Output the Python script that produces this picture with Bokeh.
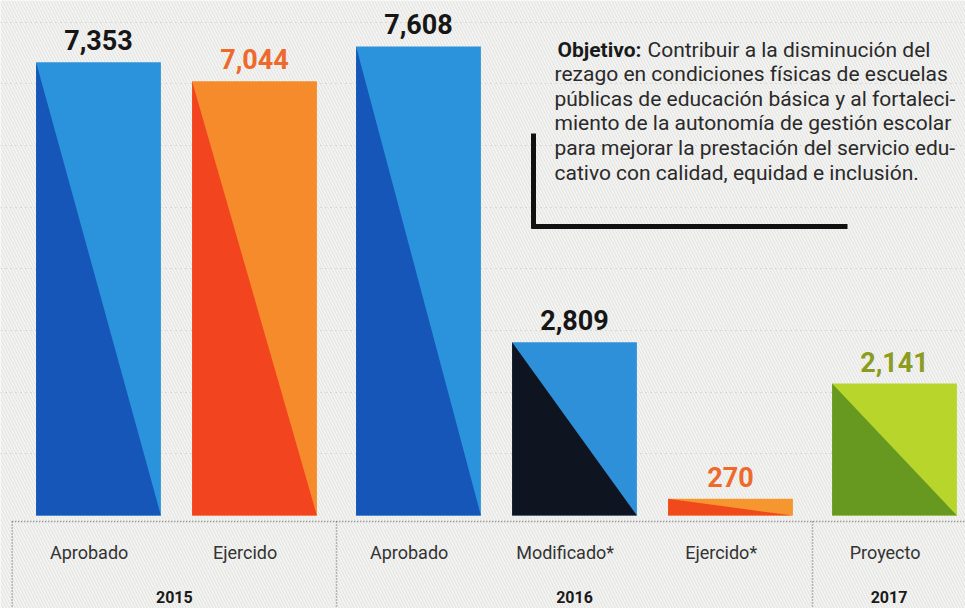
from bokeh.plotting import figure
from bokeh.models import Range1d, FixedTicker, ColumnDataSource
from bokeh.core.properties import value
from bokeh.embed import file_html
from bokeh.resources import INLINE

# ---- data ----
categories = ["Aprobado", "Ejercido", "Aprobado", "Modificado*", "Ejercido*", "Proyecto"]
years = ["2015", "2015", "2016", "2016", "2016", "2017"]
amounts = [7353, 7044, 7608, 2809, 270, 2141]
value_labels = ["7,353", "7,044", "7,608", "2,809", "270", "2,141"]
light_colors = ["#2b93dc", "#f68b2c", "#2b93dc", "#2d90d8", "#f5962e", "#b8d52c"]
dark_colors = ["#1656b8", "#f2441e", "#1656b8", "#0e1420", "#f04a1c", "#67981f"]
label_colors = ["#161616", "#ee6a2c", "#161616", "#161616", "#ee6a2c", "#8c9c20"]
grid_levels = [1000, 2000, 3000, 4000, 5000, 6000, 7000, 8000]
objective_head = "Objetivo:"
objective_lines = [
    "Contribuir a la disminución del",
    "rezago en condiciones físicas de escuelas",
    "públicas de educación básica y al fortaleci-",
    "miento de la autonomía de gestión escolar",
    "para mejorar la prestación del servicio edu-",
    "cativo con calidad, equidad e inclusión.",
]

# ---- layout ----
W, H = 965, 608
GAP = 0.0513
BAR_W = 0.80
X0 = -0.6282
X1 = X0 + W / 156.0
Y0, Y1 = -1508, 8353
FONT = "Roboto"

unique_years = []
for yv in years:
    if yv not in unique_years:
        unique_years.append(yv)
group_idx = [unique_years.index(yv) for yv in years]
xs = [i + g * GAP for i, g in enumerate(group_idx)]


def fx(px):  # pixel from left -> data x
    return X0 + px / W * (X1 - X0)


def fy(py):  # pixel from top -> data y
    return Y1 - py / H * (Y1 - Y0)


BG = "#f3f3f1"
p = figure(width=W, height=H, x_range=Range1d(X0, X1), y_range=Range1d(Y0, Y1),
           output_backend="svg", toolbar_location=None, min_border=0,
           background_fill_color=BG, border_fill_color=BG, outline_line_color=None)
p.xaxis.visible = False
p.yaxis.visible = False
p.xgrid.visible = False
p.ygrid.ticker = FixedTicker(ticks=grid_levels)
p.ygrid.grid_line_color = "#8a8a8a"
p.ygrid.grid_line_alpha = 0.45
p.ygrid.grid_line_dash = "1 4"
p.ygrid.grid_line_width = 1

# paper texture
p.quad(left=[X0], right=[X1], bottom=[Y0], top=[Y1], fill_alpha=0, line_alpha=0,
       hatch_pattern="\\", hatch_color="#d2d2d2", hatch_alpha=0.5,
       hatch_scale=6, hatch_weight=1, level="underlay")

# bars
src = ColumnDataSource(dict(x=xs, top=amounts, light=light_colors))
p.vbar(x="x", top="top", bottom=0, width=BAR_W, fill_color="light", line_color=None, source=src)
tri_xs = [[x - BAR_W / 2, x - BAR_W / 2, x + BAR_W / 2] for x in xs]
tri_ys = [[v, 0, 0] for v in amounts]
p.patches(tri_xs, tri_ys, fill_color=dark_colors, line_color=None)

# value labels
lab_src = ColumnDataSource(dict(x=xs, y=amounts, t=value_labels, c=label_colors))
p.text(x="x", y="y", text="t", text_color="c", source=lab_src, text_align="center",
       text_baseline="alphabetic", y_offset=-22, text_font=value(FONT),
       text_font_style="bold", text_font_size="27px")

# category box
box_top = fy(521)
left_border = xs[0] - BAR_W / 2 - 0.153
dividers = [left_border]
for k in range(1, len(xs)):
    if group_idx[k] != group_idx[k - 1]:
        dividers.append((xs[k - 1] + xs[k]) / 2)
p.line([left_border, X1], [box_top, box_top], line_color="#7a7a7a", line_dash="1 2", line_width=1.5)
for d in dividers:
    p.line([d, d], [box_top, Y0], line_color="#7a7a7a", line_dash="1 2", line_width=1.5)

p.text(x=[x - 0.06 for x in xs], y=[fy(552)] * len(xs), text=categories, text_align="center",
       text_baseline="middle", text_color="#333333", text_font=value(FONT),
       text_font_size="18px")

# year labels centred in their sections
bounds = dividers + [X1]
year_x = [(bounds[g] + bounds[g + 1]) / 2 for g in range(len(unique_years))]
p.text(x=year_x, y=[fy(596)] * len(unique_years), text=unique_years, text_align="center",
       text_baseline="middle", text_color="#1a1a1a", text_font=value(FONT),
       text_font_style="bold", text_font_size="16px")

# objective text block
p.text(x=[fx(557)], y=[fy(49)], text=[objective_head], text_align="left", text_baseline="middle",
       text_color="#1a1a1a", text_font=value(FONT), text_font_style="bold",
       text_font_size="21px")
p.text(x=[fx(647)], y=[fy(49)], text=[objective_lines[0]], text_align="left", text_baseline="middle",
       text_color="#2a2a2a", text_font=value(FONT), text_font_size="21px")
p.text(x=[fx(554)] * (len(objective_lines) - 1),
       y=[fy(49 + 24.6 * k) for k in range(1, len(objective_lines))],
       text=objective_lines[1:], text_align="left", text_baseline="middle",
       text_color="#2a2a2a", text_font=value(FONT), text_font_size="21px")

# bracket
p.line([fx(533), fx(533)], [fy(133), fy(228)], line_color="#111111", line_width=5)
p.line([fx(531), fx(847)], [fy(226), fy(226)], line_color="#111111", line_width=5)

open("out.html", "w").write(file_html(p, INLINE))
